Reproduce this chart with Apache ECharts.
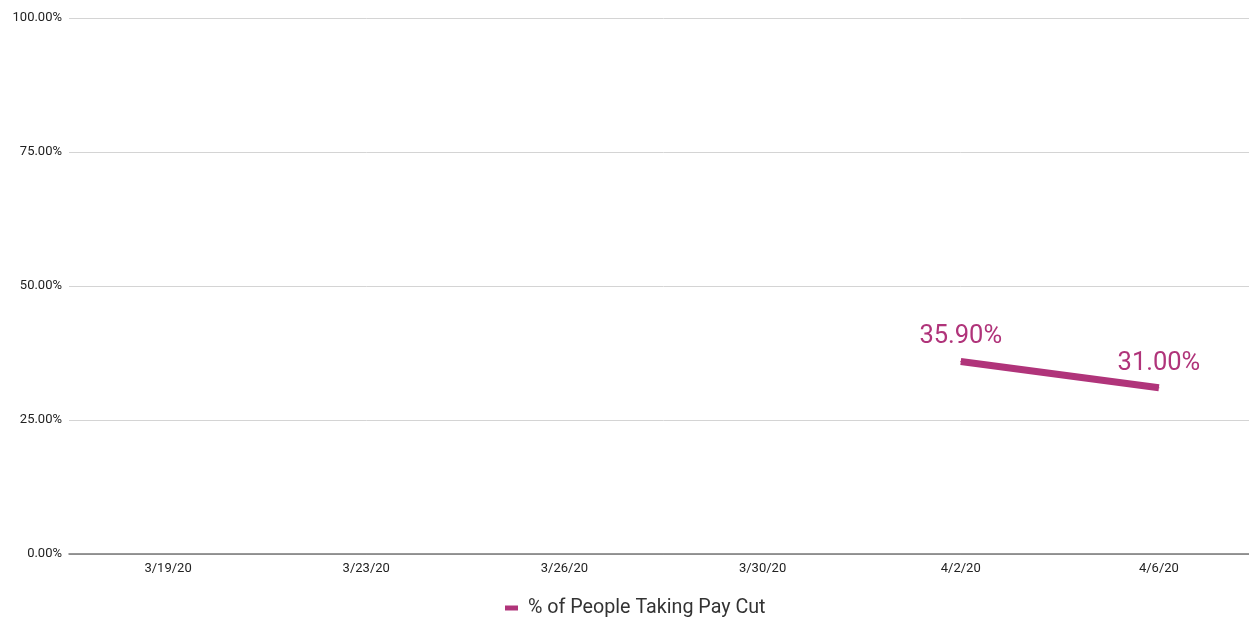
<!DOCTYPE html>
<html>
<head>
<meta charset="utf-8">
<script src="https://cdn.jsdelivr.net/npm/echarts@6/dist/echarts.min.js"></script>
<style>
  html, body { margin: 0; padding: 0; background: #fff; overflow: hidden; }
  /* canvas is a little wider than the window so the plot area bleeds off the right edge */
  #chart { width: 1258px; height: 617px; }
</style>
</head>
<body>
<div id="chart"></div>
<script>
// Survey dates and share of respondents reporting a pay cut
const dates = ['3/19/20', '3/23/20', '3/26/20', '3/30/20', '4/2/20', '4/6/20'];
const payCutPct = [null, null, null, null, 35.9, 31.0];
const seriesName = '% of People Taking Pay Cut';
const yTicks = [0, 25, 50, 75, 100];

const lineColor = '#b0347a';

const chart = echarts.init(document.getElementById('chart'));
chart.setOption({
  animation: false,
  textStyle: { fontFamily: 'Roboto, "Noto Sans", sans-serif' },
  grid: { left: 69, right: 0, top: 18, bottom: 63, containLabel: false },
  legend: {
    top: 598,
    left: 505,
    padding: 0,
    itemWidth: 13,
    itemHeight: 5,
    itemGap: 10,
    icon: 'rect',
    itemStyle: { color: lineColor },
    textStyle: { fontSize: 19.7, color: '#333', padding: [0, 0, 0, 5] },
    data: [seriesName]
  },
  xAxis: {
    type: 'category',
    data: dates,
    boundaryGap: true,
    axisLine: { lineStyle: { color: '#777', width: 1.5 } },
    axisTick: { show: false },
    axisLabel: { color: '#222', fontSize: 13, margin: 8 }
  },
  yAxis: {
    type: 'value',
    min: yTicks[0],
    max: yTicks[yTicks.length - 1],
    interval: 25,
    axisLine: { show: false },
    axisTick: { show: false },
    splitLine: { lineStyle: { color: '#d4d4d4', width: 1 } },
    axisLabel: {
      color: '#222',
      fontSize: 13,
      margin: 7,
      formatter: v => v.toFixed(2) + '%'
    }
  },
  series: [{
    name: seriesName,
    type: 'line',
    data: payCutPct,
    connectNulls: false,
    symbol: 'circle',
    symbolSize: 1,
    showSymbol: true,
    itemStyle: { color: lineColor },
    color: lineColor,
    lineStyle: { width: 7, color: lineColor, cap: 'butt' },
    label: {
      show: true,
      position: 'top',
      distance: 11,
      fontSize: 25.5,
      color: lineColor,
      formatter: p => p.value == null ? '' : p.value.toFixed(2) + '%'
    }
  }]
});
</script>
</body>
</html>
